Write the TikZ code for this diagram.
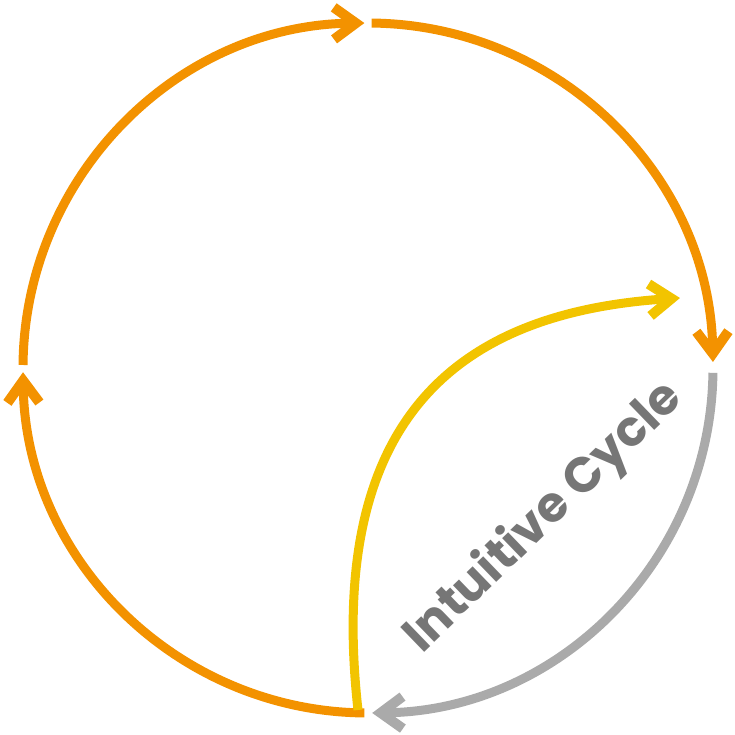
\documentclass[tikz,border=0pt]{standalone}
\usepackage{fontspec}
\newfontfamily\cyclefont{Poppins}
\usetikzlibrary{arrows.meta}

\definecolor{cycorange}{RGB}{243,146,0}
\definecolor{cycyellow}{RGB}{242,196,0}
\definecolor{cycgray}{RGB}{170,170,170}
\definecolor{cyctext}{RGB}{118,118,118}

\begin{document}
\begin{tikzpicture}[
    x=0.1mm, y=0.1mm,
    flow/.style={line width=0.9mm, -{Straight Barb[sharp, length=2.2mm, width=3.2mm, line width=1mm]}},
    title/.style={font=\cyclefont\bfseries\fontsize{14}{17}\selectfont, text=cyctext, inner sep=0pt}
]
\useasboundingbox (-368,-367) rectangle (367,368);

% ---- points on the outer circle ----
\coordinate (west)  at (179.5:345);
\coordinate (north) at (89.4:345);
\coordinate (east)  at (-0.8:345);
\coordinate (south) at (-90.6:345);

% ---- outer cycle ----
\draw[flow, cycorange] (west) arc[start angle=179.5, end angle=90.6, radius=345];
\draw[flow, cycorange] (north) arc[start angle=89.4, end angle=1.0, radius=345];
\draw[flow, cycgray] (east) arc[start angle=-0.8, end angle=-89.3, radius=345];
\draw[flow, cycorange] (south) arc[start angle=-90.6, end angle=-179.3, radius=345];

% ---- shortcut ----
\coordinate (root) at (-10,-342);
\coordinate (peak) at (312,70);
\draw[flow, cycyellow] (root) .. controls (-43,-45) and (95,56) .. (peak);

\node[title, rotate=44] (label) at (176,-150) {Intuitive Cycle};

\end{tikzpicture}
\end{document}
